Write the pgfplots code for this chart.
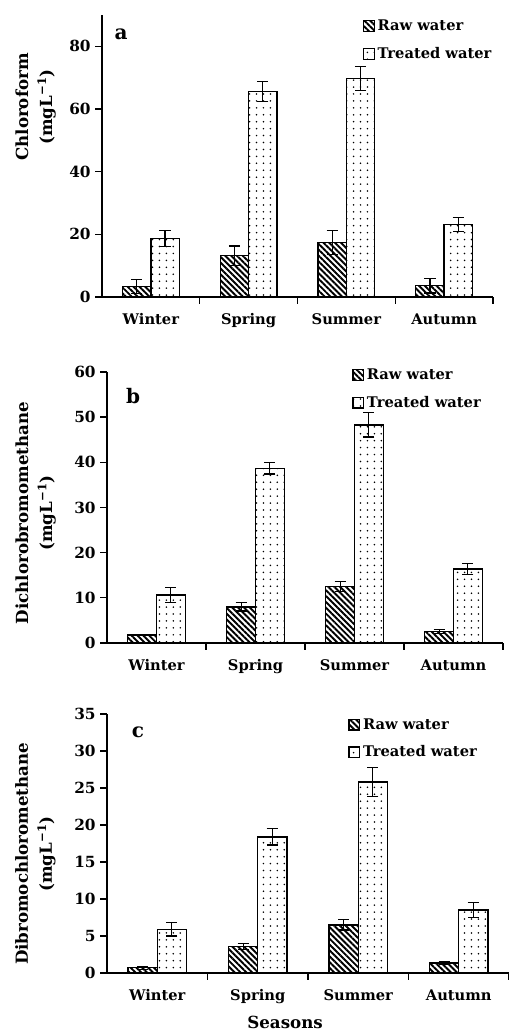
\documentclass[border=0pt]{standalone}
\usepackage{fontspec}
\setmainfont{DejaVu Serif}
\usepackage{pgfplots}
\pgfplotsset{compat=1.18}
\usetikzlibrary{patterns.meta}

\newcommand{\lblfont}{\bfseries\fontsize{11}{13}\selectfont}
\newcommand{\tckfont}{\bfseries\fontsize{11.5}{13}\selectfont}
\newcommand{\ylfont}{\bfseries\fontsize{12.5}{18}\selectfont}

\pgfplotsset{
  panel/.style={
    scale only axis,
    ybar=0pt, bar width=0.29,
    xmin=-0.5, xmax=3.5, ymin=0,
    axis lines*=left,
    axis line style={line width=1pt, black},
    xtick={0.5,1.5,2.5,3.5}, xticklabels={},
    extra x ticks={0,1,2,3},
    extra x tick labels={Winter,Spring,Summer,Autumn},
    extra x tick style={tick style={draw=none}},
    xticklabel style={yshift=-4pt, font=\lblfont},
    yticklabel style={font=\tckfont},
    tick align=outside, major tick length=5pt,
    tick style={line width=1pt, black},
    /pgf/number format/assume math mode=true,
    xlabel style={font=\lblfont},
    ylabel style={align=center, anchor=center, font=\ylfont},
    legend style={draw=none, fill=none, font=\lblfont, inner sep=0pt,
      row sep=7pt, cells={anchor=west}, anchor=west},
    legend cell align=left,
    clip=false,
  },
  rawbar/.style={draw=black, line width=1pt,
    pattern={Lines[angle=-45,distance=3.1pt,line width=1.45pt]}, pattern color=black,
    legend image code/.code={\draw[##1, line width=0.9pt] (0pt,-4pt) rectangle (8pt,4pt);},
    error bars/.cd, y dir=both, y explicit,
    error bar style={line width=0.9pt, black, solid},
    error mark options={rotate=90, mark size=4.2pt, line width=0.9pt, black, solid}},
  trtbar/.style={draw=black, line width=1pt, fill=white,
    pattern={Dots[distance=5.2pt,radius=0.65pt]}, pattern color=black,
    legend image code/.code={\draw[##1, line width=0.9pt] (0pt,-4pt) rectangle (8pt,4pt);},
    error bars/.cd, y dir=both, y explicit,
    error bar style={line width=0.9pt, black, solid},
    error mark options={rotate=90, mark size=4.2pt, line width=0.9pt, black, solid}},
}

\begin{document}
\begin{tikzpicture}
\useasboundingbox (0,0) rectangle (381.75pt,772.5pt);

% ---------- panel a ----------
\begin{axis}[panel, at={(76.5pt,549.75pt)}, anchor=south west,
  width=293.25pt, height=211.5pt,
  ymax=90, ytick={0,20,40,60,80},
  ylabel={Chloroform\\(mgL\textsuperscript{−1})},
  ylabel style={at={(axis description cs:-0.17,0.674)}},
  legend style={at={(rel axis cs:0.667,0.911)}}]
\addplot[rawbar] coordinates {(0,3.3) +- (0,2.3) (1,13.2) +- (0,3.1) (2,17.4) +- (0,3.8) (3,3.6) +- (0,2.3)};
\addplot[trtbar] coordinates {(0,18.6) +- (0,2.6) (1,65.6) +- (0,3.3) (2,69.8) +- (0,3.8) (3,23.2) +- (0,2.2)};
\legend{Raw water, Treated water}
\node[font=\bfseries\fontsize{15}{17}\selectfont] at (rel axis cs:0.049,0.933) {a};
\end{axis}

% ---------- panel b ----------
\begin{axis}[panel, at={(80.25pt,290.25pt)}, anchor=south west,
  width=297pt, height=203.25pt,
  ymax=60, ytick={0,10,20,30,40,50,60},
  ylabel={Dichlorobromomethane\\(mgL\textsuperscript{−1})},
  ylabel style={at={(axis description cs:-0.18,0.48)}},
  legend style={at={(rel axis cs:0.619,0.937)}}]
\addplot[rawbar] coordinates {(0,1.8) +- (0,0.1) (1,8.0) +- (0,0.9) (2,12.5) +- (0,1.1) (3,2.5) +- (0,0.4)};
\addplot[trtbar] coordinates {(0,10.6) +- (0,1.6) (1,38.7) +- (0,1.3) (2,48.3) +- (0,2.7) (3,16.4) +- (0,1.2)};
\legend{Raw water, Treated water}
\node[font=\bfseries\fontsize{15}{17}\selectfont] at (rel axis cs:0.066,0.911) {b};
\end{axis}

% ---------- panel c ----------
\begin{axis}[panel, at={(80.25pt,42.75pt)}, anchor=south west,
  width=301.5pt, height=194.25pt,
  ymax=35, ytick={0,5,10,15,20,25,30,35},
  ylabel={Dibromochloromethane\\(mgL\textsuperscript{−1})},
  ylabel style={at={(axis description cs:-0.178,0.46)}},
  xlabel={Seasons},
  xlabel style={at={(axis description cs:0.443,-0.189)}, anchor=center, font=\ylfont},
  legend style={at={(rel axis cs:0.6,0.905)}}]
\addplot[rawbar] coordinates {(0,0.72) +- (0,0.2) (1,3.6) +- (0,0.4) (2,6.5) +- (0,0.7) (3,1.35) +- (0,0.2)};
\addplot[trtbar] coordinates {(0,5.9) +- (0,0.9) (1,18.4) +- (0,1.1) (2,25.8) +- (0,2.0) (3,8.5) +- (0,1.0)};
\legend{Raw water, Treated water}
\node[font=\bfseries\fontsize{15}{17}\selectfont] at (rel axis cs:0.077,0.930) {c};
\end{axis}
\end{tikzpicture}
\end{document}
